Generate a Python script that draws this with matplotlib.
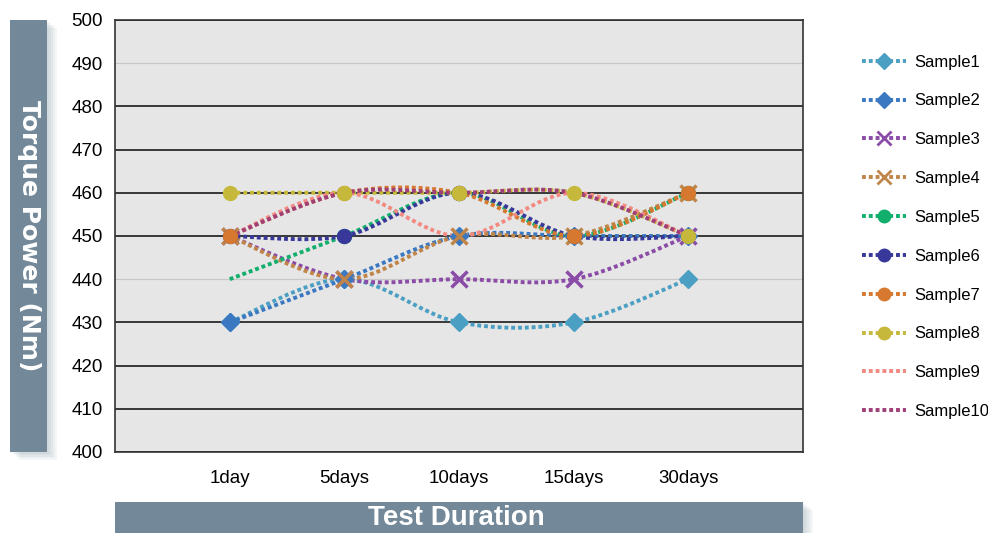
import numpy as np
import matplotlib
matplotlib.use("Agg")
import matplotlib.pyplot as plt
from matplotlib.path import Path
from matplotlib.patches import PathPatch, Rectangle
from matplotlib.lines import Line2D

# categories and series
durations = ["1day", "5days", "10days", "15days", "30days"]
sample1 = [430, 440, 430, 430, 440]
sample2 = [430, 440, 450, 450, 450]
sample3 = [450, 440, 440, 440, 450]
sample4 = [450, 440, 450, 450, 460]
sample5 = [440, 450, 460, 450, 460]
sample6 = [450, 450, 460, 450, 450]
sample7 = [450, 460, 460, 450, 460]
sample8 = [460, 460, 460, 460, 450]
sample9 = [450, 460, 450, 460, 450]
sample10 = [450, 460, 460, 460, 450]
names = ["Sample1", "Sample2", "Sample3", "Sample4", "Sample5",
         "Sample6", "Sample7", "Sample8", "Sample9", "Sample10"]
series = [sample1, sample2, sample3, sample4, sample5,
          sample6, sample7, sample8, sample9, sample10]

colors = ["#4A9FC2", "#3A78C2", "#8A4CA6", "#C08548", "#12AE6C",
          "#38389A", "#D6782F", "#C6B83A", "#F28A82", "#A03E78"]
markers = ["D", "D", "x", "x", "o", "o", "o", "o", None, None]
msizes = [9, 9, 11, 11, 10, 10, 10, 10, 0, 0]

plt.rcParams['font.family'] = ['Liberation Sans', 'DejaVu Sans']

fig = plt.figure(figsize=(9.88, 5.33), dpi=100)
ax = fig.add_axes([0.1164, 0.152, 0.6964, 0.8105])
ax.set_facecolor("#E6E6E6")


def smooth_path(xs, ys):
    # bezier segments (Excel-like smoothed line), drawn by matplotlib
    xs = np.asarray(xs, float)
    ys = np.asarray(ys, float)
    n = len(xs)
    verts = [(xs[0], ys[0])]
    codes = [Path.MOVETO]
    for i in range(n - 1):
        i0 = max(i - 1, 0)
        i3 = min(i + 2, n - 1)
        c1 = (xs[i] + (xs[i + 1] - xs[i0]) / 6, ys[i] + (ys[i + 1] - ys[i0]) / 6)
        c2 = (xs[i + 1] - (xs[i3] - xs[i]) / 6, ys[i + 1] - (ys[i3] - ys[i]) / 6)
        verts += [c1, c2, (xs[i + 1], ys[i + 1])]
        codes += [Path.CURVE4] * 3
    return Path(verts, codes)


x = np.arange(len(durations))
dots = (0, (1.0, 0.75))
handles = []
for name, ys, c, m, ms in zip(names, series, colors, markers, msizes):
    patch = PathPatch(smooth_path(x, ys), facecolor="none", edgecolor=c,
                      linewidth=2.8, linestyle=dots, capstyle="butt", zorder=3)
    ax.add_patch(patch)
    if m is not None:
        mev = [1, 2, 3, 4] if name == "Sample5" else None
        ax.plot(x, ys, linestyle="none", marker=m, markersize=ms, color=c,
                markeredgewidth=2.5 if m == "x" else 1, markevery=mev, zorder=4)
    handles.append(Line2D([], [], color=c, linewidth=2.8, linestyle=dots,
                          dash_capstyle="butt", marker=m, markersize=ms * 0.9,
                          markeredgewidth=2 if m == "x" else 1))

ax.set_xlim(-1, 5)
ax.set_ylim(400, 500)
ax.set_xticks(x)
ax.set_xticklabels(durations)
ax.set_yticks(np.arange(400, 501, 10))
ax.tick_params(length=0, labelsize=13.5)
ax.tick_params(axis="y", pad=9)
ax.tick_params(axis="x", pad=13)
ax.yaxis.grid(True, color="#1A1A1A", linewidth=1.2)
ax.set_axisbelow(True)
for tick, gl in zip(ax.get_yticks(), ax.get_ygridlines()):
    if tick in (440, 490):
        gl.set_color("#C8C8C8")
        gl.set_linewidth(0.9)
for sp in ax.spines.values():
    sp.set_color("#333333")
    sp.set_linewidth(1.2)

# y label box with soft shadow
for k in range(6):
    fig.patches.append(Rectangle((0.0101 + 0.002 * k, 0.1520 - 0.003 * k), 0.0375, 0.8105,
                                 transform=fig.transFigure, facecolor="#9AA8B2",
                                 alpha=0.10, edgecolor="none", zorder=0))
fig.patches.append(Rectangle((0.0101, 0.152), 0.0375, 0.8105, transform=fig.transFigure,
                             facecolor="#738898", edgecolor="none", zorder=1))
fig.text(0.0290, 0.5575, "Torque Power (Nm)", rotation=270, ha="center", va="center",
         color="white", fontsize=18, fontweight="bold", family=["DejaVu Sans"])

# x label box
for k in range(6):
    fig.patches.append(Rectangle((0.1164 + 0.002 * k, -0.01 - 0.003 * k), 0.6964, 0.0683,
                                 transform=fig.transFigure, facecolor="#9AA8B2",
                                 alpha=0.10, edgecolor="none", zorder=0))
fig.patches.append(Rectangle((0.1164, -0.01), 0.6964, 0.0683, transform=fig.transFigure,
                             facecolor="#738898", edgecolor="none", zorder=1))
fig.text(0.4615, 0.004, "Test Duration", ha="center", va="bottom", color="white",
         fontsize=20, fontweight="bold")

fig.legend(handles, names, loc="upper left", bbox_to_anchor=(0.866, 0.91),
           frameon=False, fontsize=12, labelspacing=1.43, handlelength=2.6,
           handletextpad=0.5, borderaxespad=0)

fig.savefig("out.png", dpi=100)
